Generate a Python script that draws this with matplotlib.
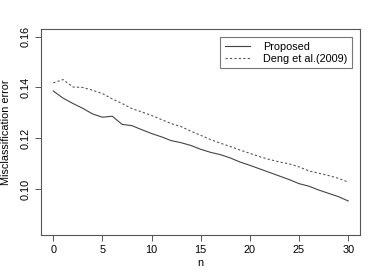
import matplotlib
matplotlib.use("Agg")
import numpy as np
from matplotlib import pyplot as plt

n = list(range(31))
proposed = [0.1386, 0.1358, 0.1337, 0.1318, 0.1296, 0.1283, 0.1287, 0.1255,
            0.1250, 0.1234, 0.1219, 0.1206, 0.1191, 0.1183, 0.1172, 0.1157,
            0.1145, 0.1136, 0.1123, 0.1107, 0.1094, 0.1080, 0.1066, 0.1052,
            0.1038, 0.1022, 0.1012, 0.0997, 0.0984, 0.0971, 0.0954]
deng = [0.1418, 0.1431, 0.1402, 0.1400, 0.1389, 0.1376, 0.1355, 0.1337,
        0.1317, 0.1304, 0.1290, 0.1274, 0.1258, 0.1246, 0.1228, 0.1212,
        0.1195, 0.1181, 0.1168, 0.1154, 0.1141, 0.1128, 0.1117, 0.1107,
        0.1100, 0.1088, 0.1072, 0.1063, 0.1054, 0.1043, 0.1028]
xticks = [0, 5, 10, 15, 20, 25, 30]
yticks = [0.10, 0.12, 0.14, 0.16]

plt.rcParams["font.family"] = ["Liberation Sans", "DejaVu Sans"]
FS = 7.8
NARROW = ["Liberation Sans Narrow", "Liberation Sans"]
EDGE = "#555555"

fig = plt.figure(figsize=(3.82, 2.73), dpi=100)
ax = fig.add_axes([0.1086, 0.139, 0.9424 - 0.1086, 0.894 - 0.139])

ax.plot(n, proposed, color="#444444", lw=0.8, ls="-", label="Proposed")
ax.plot(n, deng, color="#555555", lw=0.8, ls=(0, (2, 2)), label="Deng et al.(2009)")

ax.set_xlim(-1.2, 31.2)
ax.set_ylim(0.082, 0.163)
ax.set_xticks(xticks)
ax.set_xticklabels([str(t) for t in xticks], fontsize=FS)
ax.set_yticks(yticks)
ax.set_yticklabels(["%.2f" % t for t in yticks], fontsize=FS, rotation=90,
                   va="center", family=NARROW)
ax.tick_params(direction="out", length=4, width=0.7, color=EDGE, pad=3.5)
for s in ax.spines.values():
    s.set_color(EDGE)
    s.set_linewidth(0.8)

ax.set_xlabel("n", fontsize=FS, labelpad=2)
ax.set_ylabel("Misclassification error", fontsize=FS, family=NARROW, labelpad=7)

leg = ax.legend(loc="upper right", fontsize=FS, frameon=True, fancybox=False,
                borderaxespad=0.75, handlelength=2.3, handletextpad=1.2,
                borderpad=0.45, labelspacing=0.15)
leg.get_frame().set_edgecolor(EDGE)
leg.get_frame().set_linewidth(0.8)

plt.savefig("out.png", dpi=100)
plt.close()
